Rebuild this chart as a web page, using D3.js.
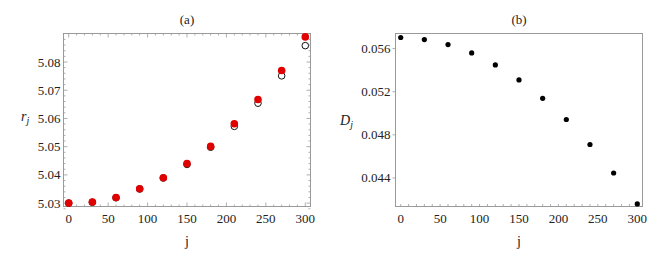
<!DOCTYPE html>
<html>
<head>
<meta charset="utf-8">
<script src="https://cdn.jsdelivr.net/npm/d3@7"></script>
<style>
  body { margin: 0; background: #fff; }
</style>
</head>
<body>
<div id="plot"></div>
<script>
// data
var jValues = [0, 30, 60, 90, 120, 150, 180, 210, 240, 270, 300]
var rFilled = [5.0300, 5.0304, 5.0320, 5.0351, 5.0390, 5.0440, 5.0501, 5.0581, 5.0667, 5.0770, 5.0889]
var rOpen   = [5.0300, 5.0303, 5.0319, 5.0350, 5.0389, 5.0437, 5.0498, 5.0572, 5.0654, 5.0751, 5.0858]
var dValues = [0.05703, 0.05684, 0.05637, 0.05560, 0.05448, 0.05309, 0.05139, 0.04942, 0.04710, 0.04446, 0.04159]
var xTicks = [0, 50, 100, 150, 200, 250, 300]
var rTicks = [5.03, 5.04, 5.05, 5.06, 5.07, 5.08]
var dTicks = [0.044, 0.048, 0.052, 0.056]

var W = 664, H = 260
var frameColor = "#9a9a9a"
var serif = "'Liberation Serif', 'Times New Roman', serif"

var svg = d3.select("#plot").append("svg")
    .attr("width", W)
    .attr("height", H)
    .attr("font-family", serif)

function addText(g)
{
    return g.append("text")
        .attr("font-family", serif)
        .attr("fill", "#222")
}

// builds one framed panel and returns its scales
function panel(left, right, yDomain, title)
{
    var top = 33.5, bottom = 206.5
    var x = d3.scaleLinear().domain([-6.6, 306.6]).range([left, right])
    var y = d3.scaleLinear().domain(yDomain).range([bottom, top])
    var g = svg.append("g")

    g.append("rect")
        .attr("x", left).attr("y", top)
        .attr("width", right - left).attr("height", bottom - top)
        .attr("fill", "none")
        .attr("stroke", frameColor)
        .attr("stroke-width", 1)

    addText(g)
        .attr("x", (left + right) / 2)
        .attr("y", 24)
        .attr("text-anchor", "middle")
        .attr("font-size", 13)
        .text(title)

    addText(g)
        .attr("x", (left + right) / 2)
        .attr("y", 246)
        .attr("text-anchor", "middle")
        .attr("font-size", 14)
        .text("j")

    return {g: g, x: x, y: y, top: top, bottom: bottom, left: left, right: right}
}

function tickLines(p, vals, side, len)
{
    p.g.selectAll(null)
        .data(vals)
        .enter().append("line")
        .attr("stroke", frameColor)
        .attr("stroke-width", 0.8)
        .attr("x1", function (d) {
            if (side == "bottom" || side == "top") return p.x(d)
            return side == "left" ? p.left : p.right
        })
        .attr("x2", function (d) {
            if (side == "bottom" || side == "top") return p.x(d)
            return side == "left" ? p.left + len : p.right - len
        })
        .attr("y1", function (d) {
            if (side == "left" || side == "right") return p.y(d)
            return side == "bottom" ? p.bottom : p.top
        })
        .attr("y2", function (d) {
            if (side == "left" || side == "right") return p.y(d)
            return side == "bottom" ? p.bottom - len : p.top + len
        })
}

function xLabels(p)
{
    p.g.selectAll(null)
        .data(xTicks)
        .enter().append("text")
        .attr("font-family", serif)
        .attr("fill", "#222")
        .attr("x", function (d) { return p.x(d) })
        .attr("y", 223)
        .attr("text-anchor", "middle")
        .attr("font-size", 13)
        .text(function (d) { return d })
}

function yLabels(p, vals, fmt, dx)
{
    p.g.selectAll(null)
        .data(vals)
        .enter().append("text")
        .attr("font-family", serif)
        .attr("fill", "#222")
        .attr("x", p.left - dx)
        .attr("y", function (d) { return p.y(d) })
        .attr("dy", "0.35em")
        .attr("text-anchor", "end")
        .attr("font-size", 13)
        .text(function (d) { return d3.format(fmt)(d) })
}

var minorX = d3.range(0, 301, 10).filter(function (d) { return d % 50 != 0 })

// ---------- panel (a)
var a = panel(63.5, 310.5, [5.0288, 5.0901], "(a)")
var minorR = d3.range(5.028, 5.0905, 0.002).filter(function (d) {
    return Math.abs(d * 100 - Math.round(d * 100)) > 1e-6
})
tickLines(a, xTicks, "bottom", 4)
tickLines(a, xTicks, "top", 4)
tickLines(a, minorX, "bottom", 2)
tickLines(a, minorX, "top", 2)
tickLines(a, rTicks, "left", 4)
tickLines(a, rTicks, "right", 4)
tickLines(a, minorR, "left", 2)
tickLines(a, minorR, "right", 2)
xLabels(a)
yLabels(a, rTicks, ".2f", 3)

var rLab = addText(a.g)
    .attr("x", 21)
    .attr("y", 121)
    .attr("font-size", 14)
    .attr("font-style", "italic")
rLab.append("tspan").text("r")
rLab.append("tspan").attr("dy", 3).attr("font-size", 10).text("j")

a.g.selectAll(".open")
    .data(rOpen)
    .enter().append("circle")
    .attr("class", "open")
    .attr("cx", function (d, i) { return a.x(jValues[i]) })
    .attr("cy", function (d) { return a.y(d) })
    .attr("r", 3.3)
    .attr("fill", "#fff")
    .attr("stroke", "#111")
    .attr("stroke-width", 1)

a.g.selectAll(".filled")
    .data(rFilled)
    .enter().append("circle")
    .attr("class", "filled")
    .attr("cx", function (d, i) { return a.x(jValues[i]) })
    .attr("cy", function (d) { return a.y(d) })
    .attr("r", 3.8)
    .attr("fill", "#e00000")

// ---------- panel (b)
var b = panel(395.5, 642.5, [0.04135, 0.0574], "(b)")
tickLines(b, minorX.concat(xTicks), "bottom", 2.5)
b.g.selectAll(null)
    .data(dTicks)
    .enter().append("line")
    .attr("stroke", frameColor)
    .attr("stroke-width", 0.8)
    .attr("x1", b.left - 3)
    .attr("x2", b.left)
    .attr("y1", function (d) { return b.y(d) })
    .attr("y2", function (d) { return b.y(d) })
xLabels(b)
yLabels(b, dTicks, ".3f", 5)

var dLab = addText(b.g)
    .attr("x", 340)
    .attr("y", 125)
    .attr("font-size", 14)
    .attr("font-style", "italic")
dLab.append("tspan").text("D")
dLab.append("tspan").attr("dy", 3).attr("font-size", 10).text("j")

b.g.selectAll(".pt")
    .data(dValues)
    .enter().append("circle")
    .attr("class", "pt")
    .attr("cx", function (d, i) { return b.x(jValues[i]) })
    .attr("cy", function (d) { return b.y(d) })
    .attr("r", 2.6)
    .attr("fill", "#000")
</script>
</body>
</html>
